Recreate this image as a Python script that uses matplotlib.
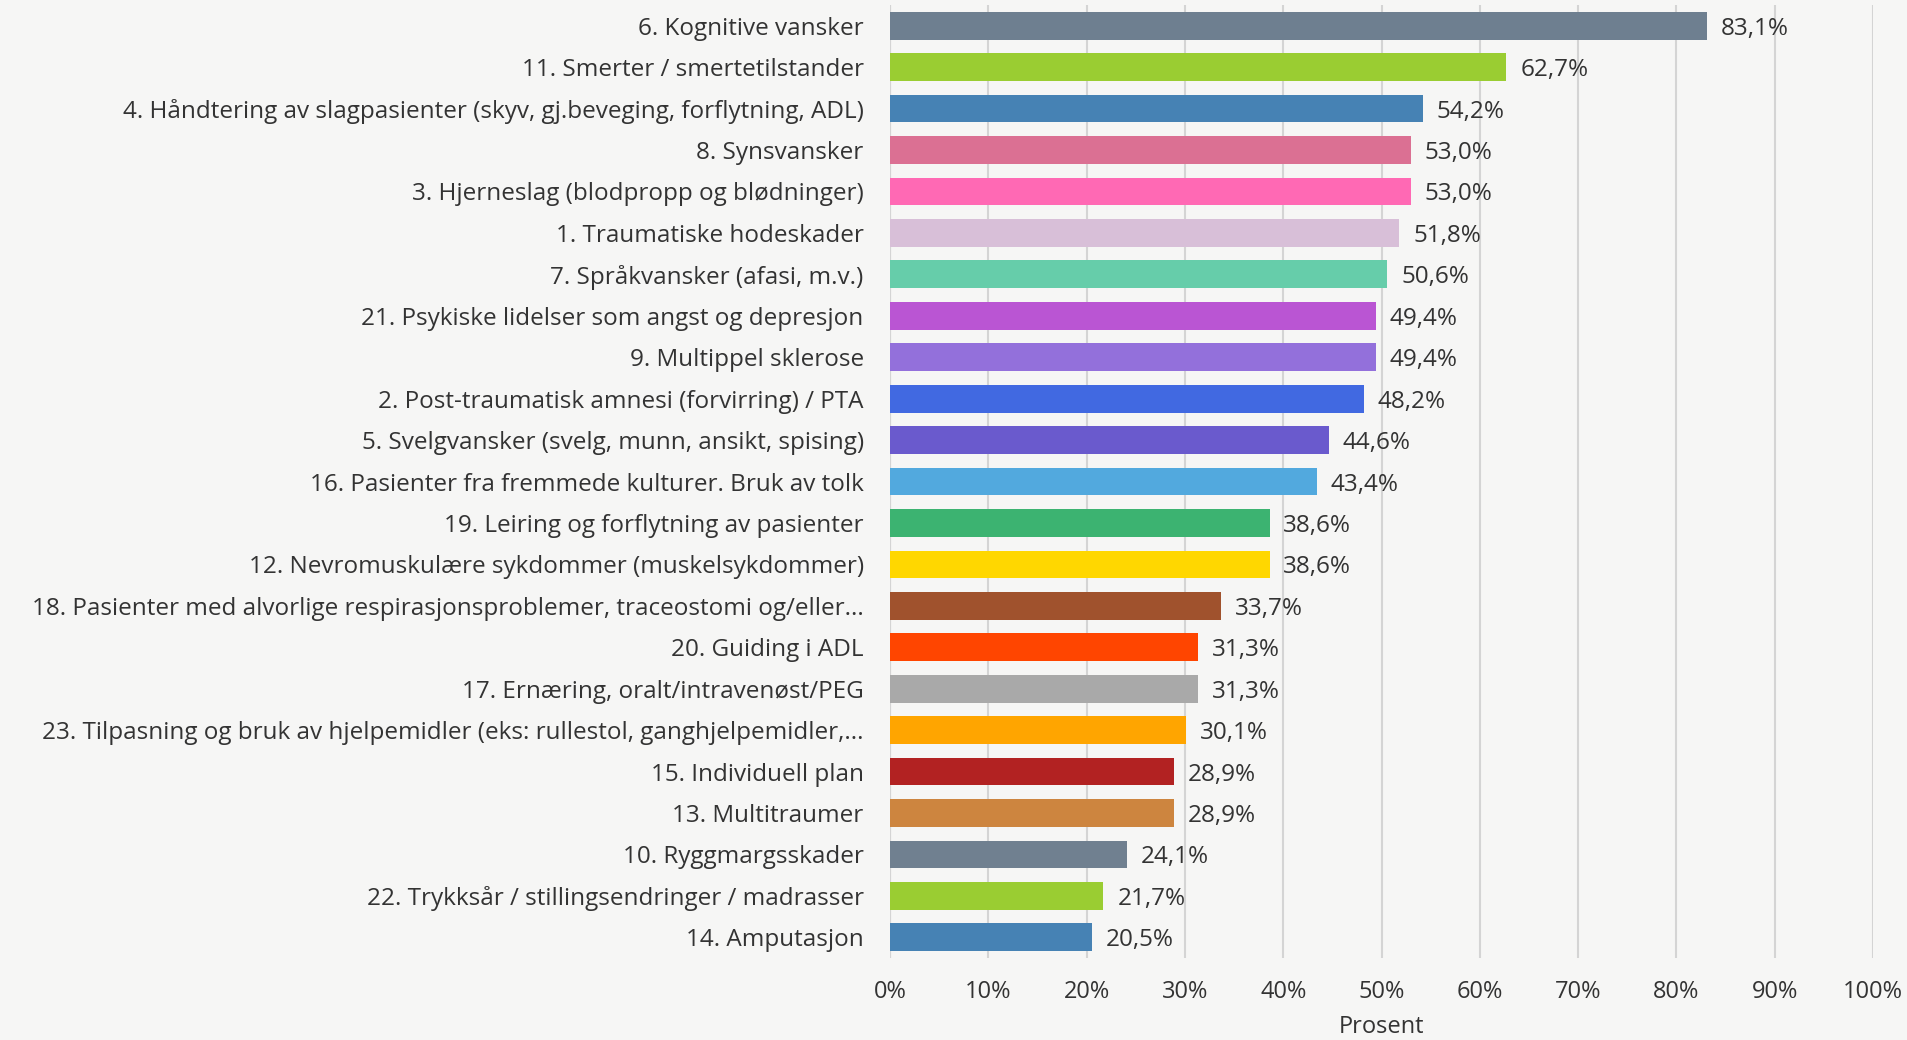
import matplotlib
matplotlib.use('Agg')
import matplotlib.pyplot as plt
import numpy as np

# categories, top to bottom
labels = [
    "6. Kognitive vansker",
    "11. Smerter / smertetilstander",
    "4. Håndtering av slagpasienter (skyv, gj.beveging, forflytning, ADL)",
    "8. Synsvansker",
    "3. Hjerneslag (blodpropp og blødninger)",
    "1. Traumatiske hodeskader",
    "7. Språkvansker (afasi, m.v.)",
    "21. Psykiske lidelser som angst og depresjon",
    "9. Multippel sklerose",
    "2. Post-traumatisk amnesi (forvirring) / PTA",
    "5. Svelgvansker (svelg, munn, ansikt, spising)",
    "16. Pasienter fra fremmede kulturer. Bruk av tolk",
    "19. Leiring og forflytning av pasienter",
    "12. Nevromuskulære sykdommer (muskelsykdommer)",
    "18. Pasienter med alvorlige respirasjonsproblemer, traceostomi og/eller...",
    "20. Guiding i ADL",
    "17. Ernæring, oralt/intravenøst/PEG",
    "23. Tilpasning og bruk av hjelpemidler (eks: rullestol, ganghjelpemidler,...",
    "15. Individuell plan",
    "13. Multitraumer",
    "10. Ryggmargsskader",
    "22. Trykksår / stillingsendringer / madrasser",
    "14. Amputasjon",
]
values = [83.1, 62.7, 54.2, 53.0, 53.0, 51.8, 50.6, 49.4, 49.4, 48.2, 44.6,
          43.4, 38.6, 38.6, 33.7, 31.3, 31.3, 30.1, 28.9, 28.9, 24.1, 21.7, 20.5]
colors = ["#6E7F90", "#9ACD32", "#4682B4", "#DB7093", "#FF69B4", "#D8BFD8",
          "#66CDAA", "#BA55D3", "#9370DB", "#4169E1", "#6A5ACD", "#52A9DE",
          "#3CB371", "#FFD700", "#A0522D", "#FF4500", "#A9A9A9", "#FFA500",
          "#B22222", "#CD853F", "#708090", "#9ACD32", "#4682B4"]
xticks = [0, 10, 20, 30, 40, 50, 60, 70, 80, 90, 100]

plt.rcParams['font.family'] = ['Open Sans', 'DejaVu Sans']
txt = '#333333'

fig = plt.figure(figsize=(19.08, 10.40), dpi=100)
fig.patch.set_facecolor('#F6F6F5')
ax = fig.add_axes([0.4665, 0.0788, 0.5152, 0.9164])
ax.set_facecolor('none')

y = np.arange(len(labels))
ax.barh(y, values, height=0.67, color=colors, zorder=3)
ax.set_ylim(len(labels) - 0.5, -0.5)
ax.set_xlim(0, 100)

for yi, v in zip(y, values):
    ax.annotate(("%.1f%%" % v).replace('.', ','), (v, yi), xytext=(10, 0),
                textcoords='offset points', va='center_baseline', ha='left',
                fontsize=17.5, color=txt)

ax.set_yticks(y)
ax.set_yticklabels(labels, fontsize=17.5, color=txt)
ax.set_xticks(xticks)
ax.set_xticklabels([str(t) + "%" for t in xticks], fontsize=17, color=txt)
ax.tick_params(axis='both', length=0)
ax.tick_params(axis='y', pad=19)
ax.tick_params(axis='x', pad=16)
ax.grid(axis='x', color='#D4D4D4', linewidth=1.5, zorder=0)
for s in ax.spines.values():
    s.set_visible(False)
ax.axvline(0, color='#D4D4D4', linewidth=1.5, zorder=1)

ax.set_xlabel("Prosent", fontsize=17, color=txt, labelpad=8)

fig.savefig("out.png", dpi=100, facecolor=fig.get_facecolor())
